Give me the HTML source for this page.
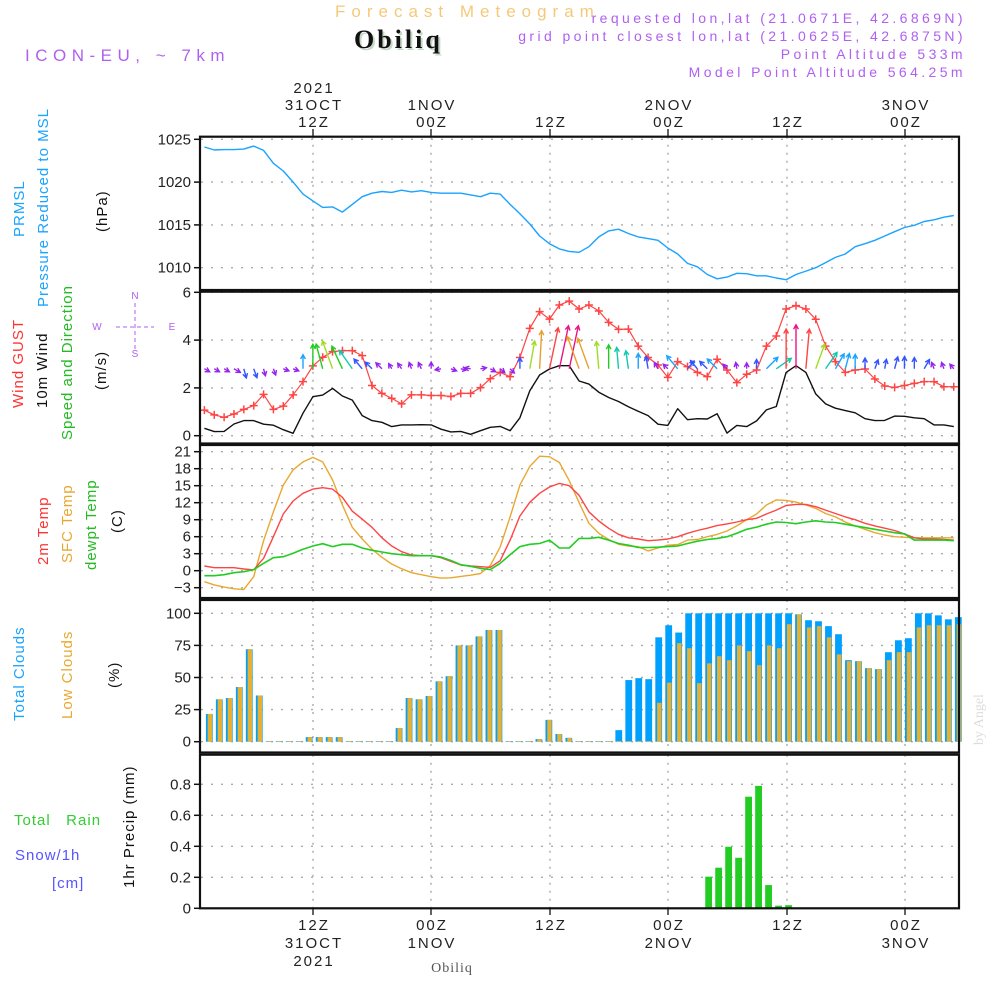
<!DOCTYPE html>
<html><head><meta charset="utf-8"><style>
html,body{margin:0;padding:0;background:#fff;}
svg{display:block;font-family:"Liberation Sans",sans-serif;}
.tk{font-size:15px;fill:#222;}
.hd{font-size:15px;letter-spacing:1px;}
.ax{font-size:15px;letter-spacing:2px;}
</style></head><body>
<svg id="chart" width="1000" height="1000" viewBox="0 0 1000 1000">
<text x="335" y="17" font-size="17" fill="#f5c97a" letter-spacing="6">Forecast Meteogram</text>
<text x="356" y="50" font-size="26" font-weight="bold" font-family="Liberation Serif,serif" fill="#c8d8c8" letter-spacing="3">Obiliq</text>
<text x="354" y="48" font-size="26" font-weight="bold" font-family="Liberation Serif,serif" fill="#111" letter-spacing="3">Obiliq</text>
<text x="25" y="61" font-size="17" fill="#b060f0" letter-spacing="5.5">ICON-EU, ~ 7km</text>
<g font-size="14" fill="#b060f0" letter-spacing="3.4" text-anchor="end">
<text x="966" y="23">requested lon,lat (21.0671E, 42.6869N)</text>
<text x="966" y="41">grid point closest lon,lat (21.0625E, 42.6875N)</text>
<text x="966" y="59">Point Altitude 533m</text>
<text x="966" y="77">Model Point Altitude 564.25m</text>
</g>
<g id="topaxis" class="ax" fill="#222" text-anchor="middle">
<text x="314" y="93">2021</text><text x="314" y="110">31OCT</text><text x="314" y="127">12Z</text>
<text x="432" y="110">1NOV</text><text x="432" y="127">00Z</text>
<text x="551" y="127">12Z</text>
<text x="669" y="110">2NOV</text><text x="669" y="127">00Z</text>
<text x="788" y="127">12Z</text>
<text x="906" y="110">3NOV</text><text x="906" y="127">00Z</text>
</g>
<g id="botaxis" class="ax" fill="#222" text-anchor="middle">
<text x="314" y="930">12Z</text><text x="314" y="948">31OCT</text><text x="314" y="966">2021</text>
<text x="432" y="930">00Z</text><text x="432" y="948">1NOV</text>
<text x="551" y="930">12Z</text>
<text x="669" y="930">00Z</text><text x="669" y="948">2NOV</text>
<text x="788" y="930">12Z</text>
<text x="906" y="930">00Z</text><text x="906" y="948">3NOV</text>
</g>
<text x="452" y="972" font-size="14" font-family="Liberation Serif,serif" fill="#555" text-anchor="middle" letter-spacing="1">Obiliq</text>
<text transform="translate(983,745) rotate(-90)" font-size="14" font-family="Liberation Serif,serif" fill="#ddd">by Angel</text>

<g class="hd">
<text transform="translate(24,237) rotate(-90)" fill="#1aa3ff">PRMSL</text>
<text transform="translate(48,307) rotate(-90)" fill="#1aa3ff">Pressure Reduced to MSL</text>
<text transform="translate(107,232) rotate(-90)" fill="#111">(hPa)</text>
<text transform="translate(23,408) rotate(-90)" fill="#ff3333">Wind GUST</text>
<text transform="translate(47,408) rotate(-90)" fill="#111">10m Wind</text>
<text transform="translate(72,440) rotate(-90)" fill="#22bb22">Speed and Direction</text>
<text transform="translate(106,390) rotate(-90)" fill="#111">(m/s)</text>
<text transform="translate(48,565) rotate(-90)" fill="#ff3333">2m Temp</text>
<text transform="translate(72,563) rotate(-90)" fill="#e8a830">SFC Temp</text>
<text transform="translate(96,570) rotate(-90)" fill="#22bb22">dewpt Temp</text>
<text transform="translate(122,533) rotate(-90)" fill="#111">(C)</text>
<text transform="translate(24,721) rotate(-90)" fill="#1aa3ff">Total Clouds</text>
<text transform="translate(72,719) rotate(-90)" fill="#e8a830">Low Clouds</text>
<text transform="translate(119,688) rotate(-90)" fill="#111">(%)</text>
<text x="14" y="825" fill="#33cc33">Total&#160;&#160;&#160;Rain</text>
<text x="15" y="860" fill="#5555ff">Snow/1h</text>
<text x="52" y="888" fill="#5555ff">[cm]</text>
<text transform="translate(134,888) rotate(-90)" fill="#111">1hr Precip (mm)</text>
</g>
<g fill="#b060f0" stroke="#b060f0" font-size="10" text-anchor="middle">
<text x="135" y="299" stroke="none">N</text><text x="135" y="357" stroke="none">S</text>
<text x="97" y="330" stroke="none">W</text><text x="172" y="330" stroke="none">E</text>
<line x1="116" y1="327" x2="154" y2="327" stroke-dasharray="4 3"/><line x1="135" y1="303" x2="135" y2="349" stroke-dasharray="4 3"/>
</g>
<g id="grid"></g>
<g id="marks"></g>
<g id="frames"></g>
</svg>
<script>
const NS="http://www.w3.org/2000/svg";
const pressure=[1024.1,1023.75,1023.8,1023.8,1023.85,1024.2,1023.7,1022.2,1021.3,1020.0,1018.6,1017.8,1017.05,1017.1,1016.5,1017.4,1018.3,1018.7,1018.9,1018.8,1019.05,1018.85,1019.0,1018.8,1018.7,1018.7,1018.7,1018.5,1018.3,1018.7,1018.6,1017.4,1016.3,1015.1,1013.7,1012.8,1012.2,1011.9,1011.8,1012.45,1013.6,1014.3,1014.5,1014.0,1013.6,1013.4,1013.2,1012.3,1011.6,1010.5,1010.1,1009.2,1008.7,1008.9,1009.35,1009.3,1009.05,1009.05,1008.8,1008.6,1009.2,1009.6,1010.0,1010.6,1011.2,1011.6,1012.45,1012.8,1013.2,1013.7,1014.2,1014.7,1014.95,1015.4,1015.6,1015.9,1016.1];
const windSpeed=[0.31,0.17,0.18,0.49,0.63,0.63,0.48,0.44,0.25,0.1,0.94,1.63,1.70,1.98,1.66,1.49,0.84,0.63,0.56,0.38,0.45,0.45,0.46,0.45,0.27,0.16,0.18,0.06,0.21,0.35,0.39,0.21,0.75,1.88,2.54,2.79,2.93,2.93,2.29,2.16,1.82,1.6,1.43,1.21,1.02,0.84,0.48,0.43,1.13,0.67,0.71,0.7,0.92,0.11,0.43,0.38,0.62,1.08,1.22,2.65,2.93,2.65,1.75,1.33,1.15,1.05,0.96,0.71,0.63,0.64,0.82,0.81,0.75,0.71,0.45,0.45,0.38];
const windGust=[1.07,0.87,0.77,0.91,1.1,1.26,1.73,1.1,1.24,1.71,2.26,2.92,3.28,3.52,3.56,3.56,3.35,2.1,1.77,1.56,1.33,1.71,1.71,1.68,1.68,1.64,1.77,1.77,2.01,2.39,2.65,2.47,3.27,4.49,5.19,4.88,5.47,5.63,5.3,5.47,5.22,4.74,4.45,4.46,3.75,3.27,2.96,2.44,3.1,2.89,2.65,2.47,3.2,2.75,2.22,2.57,2.75,3.75,4.17,5.3,5.44,5.3,4.87,3.75,3.1,2.65,2.75,2.79,2.37,2.08,2.02,2.1,2.19,2.26,2.26,2.05,2.05];
const windDir=[120,120,120,120,165,160,165,160,110,110,0,0,-15,-20,-25,-35,-40,-45,-45,-30,-35,-20,-25,0,-100,110,100,-80,80,120,130,135,0,10,3,12,12,12,-20,-20,-5,0,-5,-8,0,-10,-30,-45,-40,40,-40,-45,-45,-40,-10,0,0,45,55,0,0,5,20,35,30,15,0,0,20,10,15,0,0,30,-20,-20,-40];
const temp2m=[0.83,0.53,0.53,0.53,0.3,0.15,2.19,6.0,10.0,12.3,13.66,14.4,14.65,14.4,12.95,10.5,9.1,7.65,5.8,4.35,3.35,2.77,2.65,2.65,2.3,1.65,1.0,0.83,0.7,0.6,1.76,5.4,9.65,12.07,13.66,14.77,15.4,15.0,13.3,10.4,8.77,7.48,6.42,5.8,5.6,5.3,5.4,5.6,6.0,6.6,7.1,7.5,7.95,8.25,8.6,9.0,9.25,10.0,10.7,11.5,11.7,11.7,11.3,10.7,10.1,9.5,9.0,8.36,7.9,7.5,7.1,6.5,5.8,5.6,5.6,5.5,5.4];
const tempSfc=[-1.94,-2.5,-2.9,-3.2,-3.3,-1.06,5.3,10.4,15.1,17.8,19.2,20.0,19.2,16.0,11.6,7.65,5.6,3.8,2.36,1.18,0.35,-0.35,-0.7,-1.06,-1.3,-1.25,-1.0,-0.8,-0.5,0.9,4.2,9.5,15.1,18.4,20.2,20.1,19.1,15.9,12.0,8.36,6.6,5.5,4.66,4.36,4.25,3.5,4.0,4.5,4.6,5.4,5.5,6.0,6.4,7.0,7.9,9.0,10.0,11.6,12.5,12.4,12.1,11.6,11.0,10.1,9.5,8.6,7.9,7.3,6.7,6.3,6.0,5.9,5.8,5.8,5.8,5.8,5.8];
const dewpt=[-0.88,-0.88,-0.7,-0.35,-0.18,0.2,1.3,2.3,2.47,3.07,3.8,4.36,4.77,4.25,4.66,4.66,4.0,3.6,3.3,3.0,2.83,2.65,2.65,2.65,2.4,1.8,1.06,0.77,0.4,0.2,1.3,2.83,4.25,4.66,4.8,5.4,4.0,4.0,5.7,5.7,5.9,5.4,4.8,4.5,4.1,4.1,4.15,4.25,4.36,4.8,5.2,5.5,5.7,6.0,6.6,7.3,7.7,8.2,8.6,8.5,8.3,8.6,8.8,8.6,8.5,8.2,7.9,7.6,7.3,7.0,6.7,6.5,5.4,5.4,5.4,5.4,5.3];
const totalClouds=[21.6,33,34,42.6,72,36,0.5,0.5,0.5,0.5,3.6,3.6,3.6,3.6,0.5,0.5,0.5,0.5,0.5,10.6,34,33,35.6,47,51,75,75,82,87,87,0.5,0.5,0.5,2,17,6,3,0.5,0.5,0.5,0.5,9,48,49.5,48.7,81.3,90.7,85,100,100,100,100,100,100,100,100,100,100,100,99.2,94.6,93.8,90,83.7,63.5,62.7,57.3,56.5,69.7,79,80.6,100,100,98.4,95.3,97];
const lowClouds=[21.6,33,34,42.6,72,36,0.5,0.5,0.5,0.5,3.6,3.6,3.6,3.6,0.5,0.5,0.5,0.5,0.5,10.6,34,33,35.6,47,51,75,75,82,87,87,0.5,0.5,0.5,2,17,6,3,0.5,0.5,0.5,0.5,0.5,0.5,0.5,0.5,30.3,46,76.7,72.8,45.6,61,66.6,63.5,75,70.5,59.6,75,72.8,91.5,99.2,89,90,81.3,68,62.7,62.7,57.3,56.5,63.5,69.7,69.7,89,90.7,90.7,90.7,91.5];
const precip=[0,0,0,0,0,0,0,0,0,0,0,0,0,0,0,0,0,0,0,0,0,0,0,0,0,0,0,0,0,0,0,0,0,0,0,0,0,0,0,0,0,0,0,0,0,0,0,0,0,0,0.204,0.262,0.397,0.326,0.72,0.79,0.15,0.017,0.02,0,0,0,0,0,0,0,0,0,0,0,0,0,0,0,0,0];
const pTicks=[1025,1020,1015,1010];
const wTicks=[0,2,4,6];
const tTicks=[-3,0,3,6,9,12,15,18,21];
const cTicks=[0,25,50,75,100];
const rTicks=[0,0.2,0.4,0.6,0.8];
const timeTickX=[313,431,550,668,787,905];

const xL=i=>204.4+i*9.86;
const xB=k=>209.3+k*9.987;
const yP=v=>139.3+(1025-v)*8.56;
const yW=v=>435.7-v*23.9;
const yT=v=>570.7-v*5.667;
const yC=v=>741.7-v*1.284;
const yR=v=>908.3-v*155;
const panels=[[136.7,290],[291.7,443.5],[445,598],[600,752.5],[754.7,908.3]];

function mk(tag,attrs,parent){const e=document.createElementNS(NS,tag);for(const k in attrs)e.setAttribute(k,attrs[k]);parent.appendChild(e);return e;}
const grid=document.getElementById('grid'),marks=document.getElementById('marks'),frames=document.getElementById('frames');

function axis(ticks,yf,p,fmt,name){
  ticks.forEach(t=>{
    const y=yf(t);
    const g=mk('line',{x1:201,x2:959,y1:y,y2:y,stroke:'#aaa','stroke-width':1.4,'stroke-dasharray':'2 8'},grid);
    
    
    const tk=mk('line',{x1:194,x2:201,y1:y,y2:y,stroke:'#111','stroke-width':1.5},frames);
    
    
    const tx=mk('text',{x:191,y:y+5,'text-anchor':'end',class:'tk'},frames);
    tx.textContent=fmt(t);
    
    
  });
  timeTickX.forEach(x=>{
    const v=mk('line',{x1:x,x2:x,y1:panels[p][0],y2:panels[p][1],stroke:'#aaa','stroke-width':1.4,'stroke-dasharray':'2 6'},grid);
    
    
  });
  const r=mk('rect',{x:200,y:panels[p][0],width:759,height:panels[p][1]-panels[p][0],fill:'none',stroke:'#111','stroke-width':2.2},frames);
  
  
}
axis(pTicks,yP,0,t=>t,'pressure');
axis(wTicks,yW,1,t=>t,'wind');
axis(tTicks,yT,2,t=>t<0?'\u2212'+(-t):t,'temp');
axis(cTicks,yC,3,t=>t,'cloud');
axis(rTicks,yR,4,t=>t===0?'0':t.toFixed(1),'precip');
timeTickX.forEach(x=>{
  const a=mk('line',{x1:x,x2:x,y1:129,y2:137,stroke:'#111','stroke-width':1.3},frames);
  
  
  const b=mk('line',{x1:x,x2:x,y1:908,y2:915,stroke:'#111','stroke-width':1.3},frames);
  
  
});

function line(arr,yf,color,name,w){
  const pts=arr.map((v,i)=>xL(i).toFixed(1)+','+yf(v).toFixed(1)).join(' ');
  const p=mk('polyline',{points:pts,fill:'none',stroke:color,'stroke-width':w||1.4,'stroke-linejoin':'round'},marks);
  
  
}
line(pressure,yP,'#1aa3ff','pressure-line');
line(windSpeed,yW,'#111','wind-speed-line');
line(windGust,yW,'#ff4444','wind-gust-line',1.2);
windGust.forEach((v,i)=>{
  const x=xL(i),y=yW(v);
  const m=mk('path',{d:`M${x-4},${y}H${x+4}M${x},${y-4}V${y+4}`,stroke:'#ff4444','stroke-width':1.5},marks);
  
  
});
function wcol(s){if(s<0.6)return '#9922ee';if(s<0.9)return '#3355ff';if(s<1.2)return '#1aa3ff';if(s<1.5)return '#11c8b0';if(s<1.75)return '#22cc22';if(s<2.0)return '#a0dd22';if(s<2.6)return '#e8a030';if(s<2.85)return '#ff4444';return '#ee1188';}
windSpeed.forEach((s,i)=>{
  const L=Math.max(6,15*s),a=windDir[i]*Math.PI/180;
  const x0=xL(i),y0=yW(2.8);
  const x1=x0+L*Math.sin(a),y1=y0-L*Math.cos(a);
  const h=5,b1=a+Math.PI-0.5,b2=a+Math.PI+0.5;
  const c=wcol(s);
  const ar=mk('path',{d:`M${x0},${y0}L${x1},${y1}M${x1+h*Math.sin(b1)},${y1-h*Math.cos(b1)}L${x1},${y1}L${x1+h*Math.sin(b2)},${y1-h*Math.cos(b2)}`,stroke:c,'stroke-width':1.4,fill:'none'},marks);
  
  
});
line(tempSfc,yT,'#e8a830','sfc-temp-line');
line(temp2m,yT,'#ff4444','temp-2m-line');
line(dewpt,yT,'#22cc22','dewpt-line',1.6);
totalClouds.forEach((v,k)=>{
  const x=xB(k);
  const b=mk('rect',{x:x-3.4,y:yC(v),width:6.8,height:yC(0)-yC(v),fill:'#00a0ff'},marks);
  
  
  const l=mk('rect',{x:x-1.6,y:yC(lowClouds[k]),width:4.4,height:yC(0)-yC(lowClouds[k]),fill:'#e8b030'},marks);
  
  
});
precip.forEach((v,k)=>{
  if(v<=0)return;
  const b=mk('rect',{x:xB(k)-3.4,y:yR(v),width:6.8,height:yR(0)-yR(v),fill:'#22cc22'},marks);
  
  
});
</script>
</body></html>
